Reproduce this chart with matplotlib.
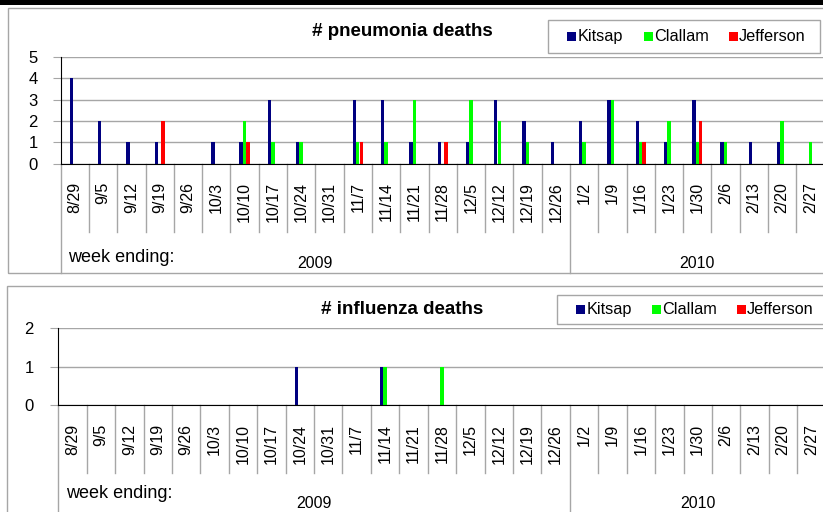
import numpy as np
import matplotlib
matplotlib.use("Agg")
import matplotlib.pyplot as plt
from matplotlib.patches import Rectangle
from matplotlib.lines import Line2D
import matplotlib.transforms as mtransforms

plt.rcParams['font.family'] = ['Liberation Sans', 'DejaVu Sans']

weeks = ["8/29", "9/5", "9/12", "9/19", "9/26", "10/3", "10/10", "10/17", "10/24",
         "10/31", "11/7", "11/14", "11/21", "11/28", "12/5", "12/12", "12/19", "12/26",
         "1/2", "1/9", "1/16", "1/23", "1/30", "2/6", "2/13", "2/20", "2/27"]
years = ["2009", "2010"]
n2009 = 18
series = ["Kitsap", "Clallam", "Jefferson"]
colors = ["#000080", "#00ff00", "#ff0000"]

pneu_kitsap = [4, 2, 1, 1, 0, 1, 1, 3, 1, 0, 3, 3, 1, 1, 1, 3, 2, 1, 2, 3, 2, 1, 3, 1, 1, 1, 0]
pneu_clallam = [0, 0, 0, 0, 0, 0, 2, 1, 1, 0, 1, 1, 3, 0, 3, 2, 1, 0, 1, 3, 1, 2, 1, 1, 0, 2, 1]
pneu_jefferson = [0, 0, 0, 2, 0, 0, 1, 0, 0, 0, 1, 0, 0, 1, 0, 0, 0, 0, 0, 0, 1, 0, 2, 0, 0, 0, 0]

flu_kitsap = [0, 0, 0, 0, 0, 0, 0, 0, 1, 0, 0, 1, 0, 0, 0, 0, 0, 0, 0, 0, 0, 0, 0, 0, 0, 0, 0]
flu_clallam = [0, 0, 0, 0, 0, 0, 0, 0, 0, 0, 0, 1, 0, 1, 0, 0, 0, 0, 0, 0, 0, 0, 0, 0, 0, 0, 0]
flu_jefferson = [0] * 27

W, H = 823, 512
fig = plt.figure(figsize=(W / 100, H / 100), dpi=100)


def fx(px):
    return px / W


def fy(py):
    return 1 - py / H


def frect(x0, y0, x1, y1, **kw):
    r = Rectangle((fx(x0), fy(y1)), fx(x1) - fx(x0), fy(y0) - fy(y1),
                  transform=fig.transFigure, **kw)
    fig.add_artist(r)
    return r


GRID = "#a6a6a6"

# top black strip
frect(0, 0, W, 5, facecolor="black", edgecolor="none")
# panel borders
frect(8, 8, W + 10, 273, facecolor="none", edgecolor=GRID, lw=1)
frect(7, 286, W + 10, H + 10, facecolor="none", edgecolor=GRID, lw=1)


def panel(left, right, top, bottom, ymax, data, title, title_y, sep_bottom, panel_bottom,
          label_top, yr_y, we_y, legend_box, legend_sq, ytick_right):
    ax = fig.add_axes([fx(left), fy(bottom), fx(right) - fx(left), fy(top) - fy(bottom)])
    x = np.arange(len(weeks))
    w = 0.12
    offs = [-0.122, 0.0, 0.122]
    for vals, off, c in zip(data, offs, colors):
        ax.bar(x + off, vals, width=w, color=c, edgecolor="none", zorder=3)
    ax.set_xlim(-0.5, len(weeks) - 0.5)
    ax.set_ylim(0, ymax)
    ax.set_yticks(range(ymax + 1))
    ax.yaxis.grid(True, color=GRID, lw=1, zorder=0)
    ax.set_axisbelow(True)
    for s in ["top", "right"]:
        ax.spines[s].set_visible(False)
    ax.spines["left"].set_color("black")
    ax.spines["bottom"].set_color("black")
    ax.spines["bottom"].set_zorder(4)
    ax.tick_params(axis="y", length=6, color=GRID, labelsize=12,
                   pad=(left - 6 - ytick_right) * 72 / 100)
    ax.set_xticks(x)
    ax.set_xticklabels(weeks, rotation=90, fontsize=11.5, va="top", ha="center")
    ax.tick_params(axis="x", length=0, pad=(label_top - bottom) * 72 / 100)

    trans = mtransforms.blended_transform_factory(ax.transData, fig.transFigure)
    # category separators
    for k in range(1, len(weeks)):
        yb = panel_bottom if k == n2009 else sep_bottom
        ax.add_artist(Line2D([k - 0.5, k - 0.5], [fy(bottom), fy(yb)], transform=trans,
                             color=GRID, lw=1, clip_on=False))
    ax.add_artist(Line2D([-0.5, -0.5], [fy(bottom), fy(panel_bottom)], transform=trans,
                         color=GRID, lw=1, clip_on=False))
    # year labels
    ax.text((-0.5 + n2009 - 0.5) / 2, fy(yr_y), years[0], transform=trans,
            ha="center", va="center", fontsize=11.5)
    ax.text((n2009 - 0.5 + len(weeks) - 0.5) / 2, fy(yr_y), years[1], transform=trans,
            ha="center", va="center", fontsize=11.5)
    fig.text(fx(left + 7.5), fy(we_y), "week ending:", ha="left", va="center", fontsize=13)
    fig.text(fx(402), fy(title_y), title, ha="center", va="center", fontsize=13.5,
             fontweight="bold")

    # legend
    bx0, by0, bx1, by1 = legend_box
    frect(bx0, by0, bx1, by1, facecolor="white", edgecolor=GRID, lw=1)
    cy = (by0 + by1) / 2
    for name, c, sx in zip(series, colors, legend_sq):
        frect(sx, cy - 4.5, sx + 9, cy + 4.5, facecolor=c, edgecolor="none")
        fig.text(fx(sx + 10.5), fy(cy), name, ha="left", va="center", fontsize=11.7)
    return ax


panel(60.7, 824.6, 57, 163.5, 5, [pneu_kitsap, pneu_clallam, pneu_jefferson],
      "# pneumonia deaths", 32, 232, 273, 182, 263, 257,
      (548, 20, 820, 53.3), (566.7, 644, 728.7), 40)
panel(58.3, 825.6, 328.3, 405, 2, [flu_kitsap, flu_clallam, flu_jefferson],
      "# influenza deaths", 309, 473.3, 520, 424, 504, 493,
      (557, 295, 835, 324.3), (575.7, 651.7, 736.7), 36)

fig.savefig("out.png", dpi=100)
